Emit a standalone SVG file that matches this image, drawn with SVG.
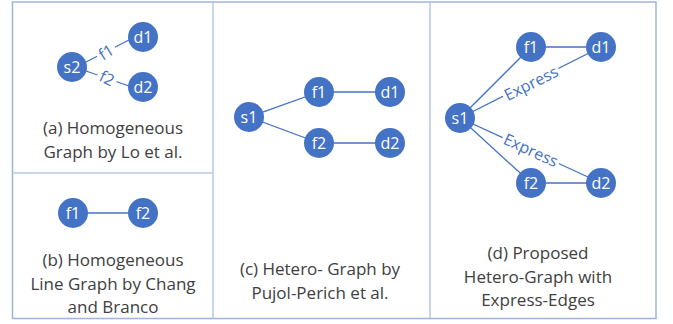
<svg xmlns="http://www.w3.org/2000/svg" width="673" height="324" viewBox="0 0 673 324">
<style>
.frame{fill:none;stroke:#9DB4E0;stroke-width:1.5}
.div{stroke:#B4C7E7;stroke-width:1.5}
.node{fill:#4472C4}
.nt{fill:#fff;font-family:"Open Sans","Noto Sans",sans-serif;font-size:16px;text-anchor:middle;dominant-baseline:central}
.edge{stroke:#4472C4;stroke-width:1.3;fill:none}
.el{fill:#4472C4;font-family:"Open Sans","Noto Sans",sans-serif;font-size:16px;text-anchor:middle;dominant-baseline:central}
.cap{fill:#404040;font-family:"Open Sans","Noto Sans",sans-serif;font-size:17px;text-anchor:middle}
</style>
<rect width="673" height="324" fill="#fff"/>
<g id="frame">
<rect class="frame" x="12.5" y="2" width="643.5" height="316.5"/>
<line class="div" x1="213" y1="2" x2="213" y2="318.5"/>
<line class="div" x1="430" y1="2" x2="430" y2="318.5"/>
<line class="div" x1="12.5" y1="173" x2="213" y2="173"/>
</g>
<g id="connectors">
<line class="edge" x1="86" y1="62" x2="129" y2="40"/>
<line class="edge" x1="86" y1="71" x2="129" y2="86"/>
<line class="edge" x1="73" y1="213" x2="143" y2="213"/>
<line class="edge" x1="249" y1="117" x2="319" y2="92"/>
<line class="edge" x1="249" y1="117" x2="319" y2="143"/>
<line class="edge" x1="319" y1="92" x2="390" y2="92"/>
<line class="edge" x1="319" y1="143" x2="390" y2="143"/>
<line class="edge" x1="460" y1="118" x2="531" y2="47"/>
<line class="edge" x1="460" y1="118" x2="531" y2="183"/>
<line class="edge" x1="531" y1="47" x2="601" y2="47"/>
<line class="edge" x1="531" y1="183" x2="601" y2="183"/>
<line class="edge" x1="460" y1="118" x2="601" y2="47"/>
<line class="edge" x1="460" y1="118" x2="601" y2="183"/>
</g>
<g id="edge-labels">
<g transform="translate(106,52) rotate(-32)"><rect x="-10" y="-10" width="20" height="20" fill="#fff"/><text class="el" x="0" y="0">f1</text></g>
<g transform="translate(107,78) rotate(25)"><rect x="-10" y="-10" width="20" height="20" fill="#fff"/><text class="el" x="0" y="0">f2</text></g>
<g transform="translate(531,83) rotate(-26.7)"><rect x="-31" y="-10" width="62" height="20" fill="#fff"/><text class="el" x="0" y="0">Express</text></g>
<g transform="translate(531,150) rotate(24.7)"><rect x="-31" y="-10" width="62" height="20" fill="#fff"/><text class="el" x="0" y="0">Express</text></g>
</g>
<g id="a-s2"><circle class="node" cx="72" cy="67" r="15"/><text class="nt" x="72" y="67">s2</text></g>
<g id="a-d1"><circle class="node" cx="143" cy="37" r="15"/><text class="nt" x="143" y="37">d1</text></g>
<g id="a-d2"><circle class="node" cx="143" cy="87" r="15"/><text class="nt" x="143" y="87">d2</text></g>
<g id="b-f1"><circle class="node" cx="73" cy="213" r="15"/><text class="nt" x="73" y="213">f1</text></g>
<g id="b-f2"><circle class="node" cx="143" cy="213" r="15"/><text class="nt" x="143" y="213">f2</text></g>
<g id="c-s1"><circle class="node" cx="249" cy="117" r="15"/><text class="nt" x="249" y="117">s1</text></g>
<g id="c-f1"><circle class="node" cx="319" cy="92" r="15"/><text class="nt" x="319" y="92">f1</text></g>
<g id="c-d1"><circle class="node" cx="390" cy="92" r="15"/><text class="nt" x="390" y="92">d1</text></g>
<g id="c-f2"><circle class="node" cx="319" cy="143" r="15"/><text class="nt" x="319" y="143">f2</text></g>
<g id="c-d2"><circle class="node" cx="390" cy="143" r="15"/><text class="nt" x="390" y="143">d2</text></g>
<g id="d-s1"><circle class="node" cx="460" cy="118" r="15"/><text class="nt" x="460" y="118">s1</text></g>
<g id="d-f1"><circle class="node" cx="531" cy="47" r="15"/><text class="nt" x="531" y="47">f1</text></g>
<g id="d-d1"><circle class="node" cx="601" cy="47" r="15"/><text class="nt" x="601" y="47">d1</text></g>
<g id="d-f2"><circle class="node" cx="531" cy="183" r="15"/><text class="nt" x="531" y="183">f2</text></g>
<g id="d-d2"><circle class="node" cx="601" cy="183" r="15"/><text class="nt" x="601" y="183">d2</text></g>
<g id="captions">
<text class="cap" x="113" y="134">(a) Homogeneous</text>
<text class="cap" x="113" y="158">Graph by Lo et al.</text>
<text class="cap" x="113" y="266">(b) Homogeneous</text>
<text class="cap" x="113" y="290">Line Graph by Chang</text>
<text class="cap" x="113" y="313">and Branco</text>
<text class="cap" x="320" y="275">(c) Hetero- Graph by</text>
<text class="cap" x="320" y="299">Pujol-Perich et al.</text>
<text class="cap" x="538" y="259">(d) Proposed</text>
<text class="cap" x="538" y="283">Hetero-Graph with</text>
<text class="cap" x="538" y="306">Express-Edges</text>
</g>
</svg>
